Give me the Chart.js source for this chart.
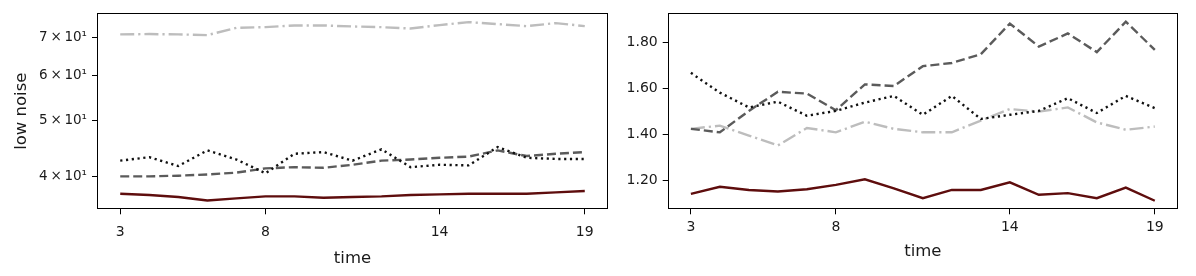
<!DOCTYPE html>
<html>
<head>
<meta charset="utf-8">
<script src="https://cdn.jsdelivr.net/npm/chart.js@4/dist/chart.umd.min.js"></script>
<style>
    html, body { margin: 0; padding: 0; background: #fff; }
    #wrap { position: relative; width: 1196px; height: 276px; }
    canvas { position: absolute; top: 0; }
    #chartLeft { left: 0; }
    #chartRight { left: 615px; }
</style>
</head>
<body>
<div id="wrap">
    <canvas id="chartLeft" width="615" height="276"></canvas>
    <canvas id="chartRight" width="581" height="276"></canvas>
</div>
<script>
// Eixo x (tempo) compartilhado pelos dois painéis
const timeSteps = [3, 4, 5, 6, 7, 8, 9, 10, 11, 12, 13, 14, 15, 16, 17, 18, 19];
const xTickValues = [3, 8, 14, 19];

// Painel esquerdo (escala log)
const leftSolid   = [37.3, 37.1, 36.8, 36.3, 36.6, 36.9, 36.9, 36.7, 36.8, 36.9, 37.1, 37.2, 37.3, 37.3, 37.3, 37.5, 37.7];
const leftDotted  = [42.6, 43.2, 41.7, 44.4, 42.8, 40.5, 43.8, 44.1, 42.6, 44.6, 41.5, 41.9, 41.8, 45.0, 43.1, 42.9, 42.9];
const leftDashed  = [40.0, 40.0, 40.1, 40.3, 40.6, 41.3, 41.5, 41.4, 41.9, 42.6, 42.8, 43.1, 43.3, 44.4, 43.4, 43.8, 44.1];
const leftDashDot = [70.8, 70.9, 70.8, 70.6, 72.7, 72.9, 73.4, 73.4, 73.1, 72.9, 72.5, 73.5, 74.4, 73.8, 73.2, 74.1, 73.2];
const leftYTicks  = [40, 50, 60, 70];

// Painel direito (escala linear)
const rightSolid   = [1.143, 1.174, 1.160, 1.153, 1.163, 1.182, 1.206, 1.167, 1.124, 1.160, 1.160, 1.193, 1.139, 1.146, 1.124, 1.170, 1.113];
const rightDotted  = [1.668, 1.582, 1.518, 1.543, 1.482, 1.503, 1.539, 1.568, 1.486, 1.568, 1.468, 1.486, 1.503, 1.558, 1.494, 1.568, 1.515];
const rightDashed  = [1.425, 1.410, 1.503, 1.586, 1.578, 1.506, 1.618, 1.611, 1.697, 1.711, 1.749, 1.882, 1.782, 1.839, 1.758, 1.890, 1.768];
const rightDashDot = [1.425, 1.439, 1.396, 1.353, 1.429, 1.410, 1.456, 1.425, 1.410, 1.410, 1.461, 1.511, 1.500, 1.518, 1.453, 1.421, 1.435];
const rightYTicks  = [1.2, 1.4, 1.6, 1.8];

document.addEventListener('DOMContentLoaded', () => {

    const FONT = 'DejaVu Sans';
    const TEXT = '#1a1a1a';

    // Estilos das quatro linhas
    const lineStyles = [
        { color: '#5e0d0d', dash: [] },
        { color: '#111111', dash: [2.2, 3.6] },
        { color: '#5b5b5b', dash: [9, 4] },
        { color: '#bdbdbd', dash: [14, 4, 2.2, 4] }
    ];

    const toPoints = (values) => values.map((v, i) => ({ x: timeSteps[i], y: v }));

    const buildDatasets = (series) => series.map((values, i) => ({
        data: toPoints(values),
        borderColor: lineStyles[i].color,
        borderDash: lineStyles[i].dash,
        borderWidth: 2.4,
        borderCapStyle: 'butt',
        pointRadius: 0,
        tension: 0,
        fill: false
    }));

    // Moldura completa em volta da área do gráfico
    const frameBox = {
        id: 'frameBox',
        afterDraw(chart) {
            const { ctx, chartArea: a } = chart;
            const l = Math.round(a.left) + 0.5;
            const t = Math.round(a.top) + 0.5;
            const r = Math.round(a.right) - 0.5;
            const b = Math.round(a.bottom) - 0.5;
            ctx.save();
            ctx.strokeStyle = '#000';
            ctx.lineWidth = 1;
            ctx.strokeRect(l, t, r - l, b - t);
            ctx.restore();
        }
    };

    const tickGrid = {
        drawOnChartArea: false,
        drawTicks: true,
        tickLength: 5,
        tickColor: '#000',
        tickWidth: 1
    };

    const makeXScale = (tickPad, titlePad) => ({
        type: 'linear',
        min: 2.2,
        max: 19.8,
        bounds: 'data',
        afterBuildTicks: (s) => { s.ticks = xTickValues.map(v => ({ value: v })); },
        afterFit: (s) => { s.height = 276 - 209.3; },
        grid: tickGrid,
        border: { display: false },
        ticks: {
            color: TEXT,
            font: { family: FONT, size: 14 },
            padding: tickPad,
            maxRotation: 0,
            callback: (v) => String(v)
        },
        title: {
            display: true,
            text: 'time',
            color: TEXT,
            font: { family: FONT, size: 16.5 },
            padding: { top: 0, bottom: titlePad }
        }
    });

    const baseOptions = (scales, padding) => ({
        responsive: false,
        animation: false,
        devicePixelRatio: 1,
        layout: { padding },
        plugins: {
            legend: { display: false },
            tooltip: { enabled: false }
        },
        scales
    });

    // Painel esquerdo
    new Chart(document.getElementById('chartLeft'), {
        type: 'line',
        data: { datasets: buildDatasets([leftSolid, leftDotted, leftDashed, leftDashDot]) },
        options: baseOptions({
            x: makeXScale(10, 7),
            y: {
                type: 'logarithmic',
                min: 35.03,
                max: 77.14,
                bounds: 'data',
                afterBuildTicks: (s) => { s.ticks = leftYTicks.map(v => ({ value: v })); },
                afterFit: (s) => { s.width = 97; },
                grid: tickGrid,
                border: { display: false },
                ticks: {
                    color: TEXT,
                    font: { family: FONT, size: 13.5 },
                    padding: 5,
                    callback: (v) => `${v / 10}\u2009×\u200910¹`
                },
                title: {
                    display: true,
                    text: 'low noise',
                    color: TEXT,
                    font: { family: FONT, size: 16.5 },
                    padding: { top: 12, bottom: 0 }
                }
            }
        }, { top: 12.3, right: 7, bottom: 0, left: 0 }),
        plugins: [frameBox]
    });

    // Painel direito
    new Chart(document.getElementById('chartRight'), {
        type: 'line',
        data: { datasets: buildDatasets([rightSolid, rightDotted, rightDashed, rightDashDot]) },
        options: baseOptions({
            x: makeXScale(5, 14),
            y: {
                type: 'linear',
                min: 1.076,
                max: 1.926,
                bounds: 'data',
                afterBuildTicks: (s) => { s.ticks = rightYTicks.map(v => ({ value: v })); },
                afterFit: (s) => { s.width = 52.7; },
                grid: tickGrid,
                border: { display: false },
                ticks: {
                    color: TEXT,
                    font: { family: FONT, size: 14 },
                    padding: 5,
                    callback: (v) => v.toFixed(2)
                }
            }
        }, { top: 12.3, right: 18, bottom: 0, left: 0 }),
        plugins: [frameBox]
    });
});
</script>
</body>
</html>
